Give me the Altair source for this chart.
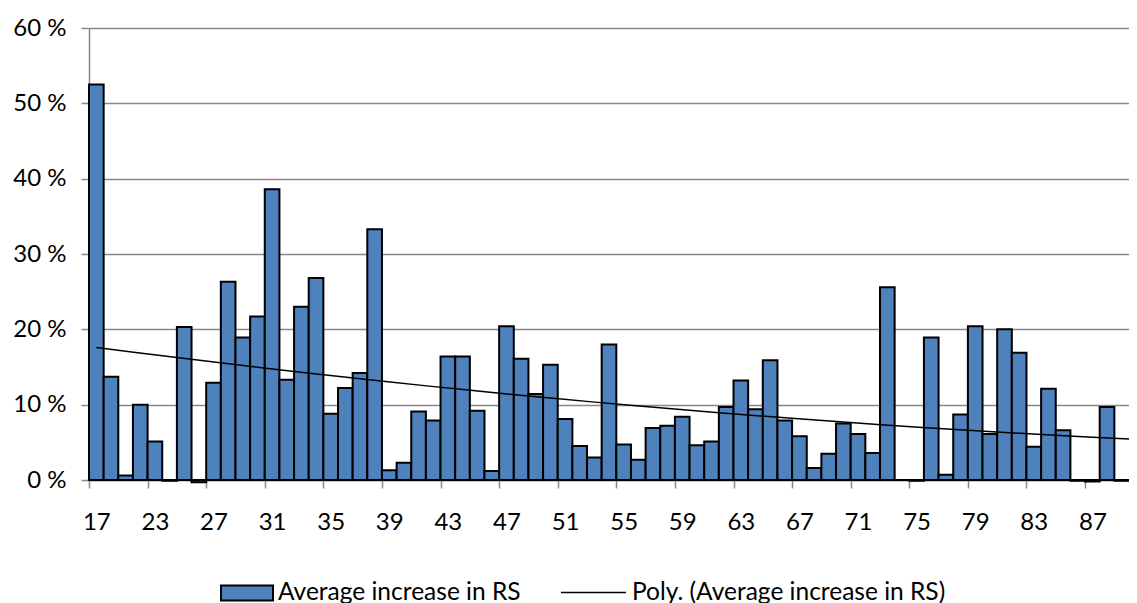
import altair as alt
import pandas as pd

BAR_FILL = "#4F81BD"
GRID = "#888888"
FONT = "Lato"

# age categories (three of 18-22 are present in the source)
AGES = ["17", "18", "20", "22"] + [str(a) for a in range(23, 90)]

# average increase in RS, percent
VALUES = [
    52.5, 13.7, 0.6, 10.0, 5.1, -0.1, 20.3, -0.3, 12.9, 26.3,
    18.9, 21.7, 38.6, 13.3, 23.0, 26.8, 8.8, 12.2, 14.2, 33.3,
    1.3, 2.3, 9.1, 7.9, 16.4, 16.4, 9.2, 1.2, 20.4, 16.1,
    11.4, 15.3, 8.1, 4.5, 3.0, 18.0, 4.7, 2.7, 6.9, 7.2,
    8.4, 4.6, 5.1, 9.7, 13.2, 9.4, 15.9, 7.9, 5.8, 1.6,
    3.5, 7.5, 6.1, 3.6, 25.6, 0.0, -0.1, 18.9, 0.7, 8.7,
    20.4, 6.1, 20.0, 16.9, 4.4, 12.1, 6.6, -0.1, -0.2, 9.7,
    -0.1,
]

# points (category position, percent)
TREND_POS = [0.5, 5.7, 12.5, 19.3, 28.9, 39.1, 45.2, 52.0, 58.9, 62.8, 70.9]
TREND_VALUES = [17.7, 16.2, 14.7, 13.3, 11.4, 9.6, 8.5, 7.6, 6.8, 6.3, 5.4]

Y_TICKS = [0, 10, 20, 30, 40, 50, 60]

WIDTH = 1040
HEIGHT = 452
n = len(AGES)

df = pd.DataFrame({"age": AGES, "value": VALUES})
df["idx"] = range(n)
df["idx_end"] = df["idx"] + 1
df["series"] = "Average increase in RS"

trend_df = pd.DataFrame({"pos": TREND_POS, "value": TREND_VALUES})

# only every 4th category is labelled, as in the source
labels = [a if i % 4 == 0 else "" for i, a in enumerate(AGES)]
label_expr = "[" + ",".join(f"'{s}'" for s in labels) + "][datum.value] || ''"

x_scale = alt.Scale(domain=[0, n], nice=False, zero=False)
y_scale = alt.Scale(domain=[0, 60], nice=False)

x_axis = alt.Axis(
    title=None,
    values=list(range(n + 1)),
    labelExpr=label_expr,
    labelOffset=WIDTH / n / 2,
    labelFlush=False,
    labelOverlap=False,
    labelBound=False,
    labelPadding=22,
    tickSize=8,
    grid=False,
)
y_axis = alt.Axis(
    title=None,
    values=Y_TICKS,
    labelExpr="datum.value + ' %'",
    labelPadding=15,
    tickSize=8,
    grid=True,
)

bars = (
    alt.Chart(df)
    .mark_bar(stroke="black", strokeWidth=2)
    .encode(
        x=alt.X("idx:Q", scale=x_scale, axis=x_axis),
        x2="idx_end:Q",
        y=alt.Y("value:Q", scale=y_scale, axis=y_axis),
        y2=alt.datum(0),
        fill=alt.Fill(
            "series:N",
            scale=alt.Scale(range=[BAR_FILL]),
            legend=alt.Legend(
                title=None,
                orient="none",
                legendX=131,
                legendY=538,
                padding=0,
                symbolType="M-1,-0.29H1V0.29H-1Z",
                symbolSize=2704,
                symbolStrokeColor="black",
                symbolStrokeWidth=2,
                symbolOpacity=1,
                labelOffset=4,
                labelLimit=0,
            ),
        ),
    )
)

trend = (
    alt.Chart(trend_df)
    .transform_regression("pos", "value", method="poly", order=2, extent=[0.5, n])
    .transform_calculate(series="'Poly. (Average increase in RS)'")
    .mark_line(strokeWidth=1.5)
    .encode(
        x=alt.X("pos:Q", scale=x_scale),
        y=alt.Y("value:Q", scale=y_scale),
        stroke=alt.Stroke(
            "series:N",
            scale=alt.Scale(range=["black"]),
            legend=alt.Legend(
                title=None,
                orient="none",
                legendX=471,
                legendY=531,
                padding=0,
                symbolType="stroke",
                symbolSize=4225,
                symbolStrokeWidth=1.5,
                labelOffset=5,
                labelLimit=0,
            ),
        ),
    )
)

chart = (
    alt.layer(bars, trend)
    .properties(
        width=WIDTH,
        height=HEIGHT,
        autosize=alt.AutoSizeParams(type="none"),
        padding={"left": 81, "top": 20, "right": 0, "bottom": 123},
    )
    .configure_view(strokeWidth=0)
    .configure_axis(
        labelFont=FONT,
        labelFontSize=24,
        labelColor="black",
        domainColor=GRID,
        tickColor=GRID,
        gridColor=GRID,
        domainWidth=1.5,
        tickWidth=1.5,
        gridWidth=1.3,
    )
    .configure_legend(labelFont=FONT, labelFontSize=24.5, labelColor="black")
)

chart.save("out.html", embed_options={"renderer": "svg", "actions": False})
